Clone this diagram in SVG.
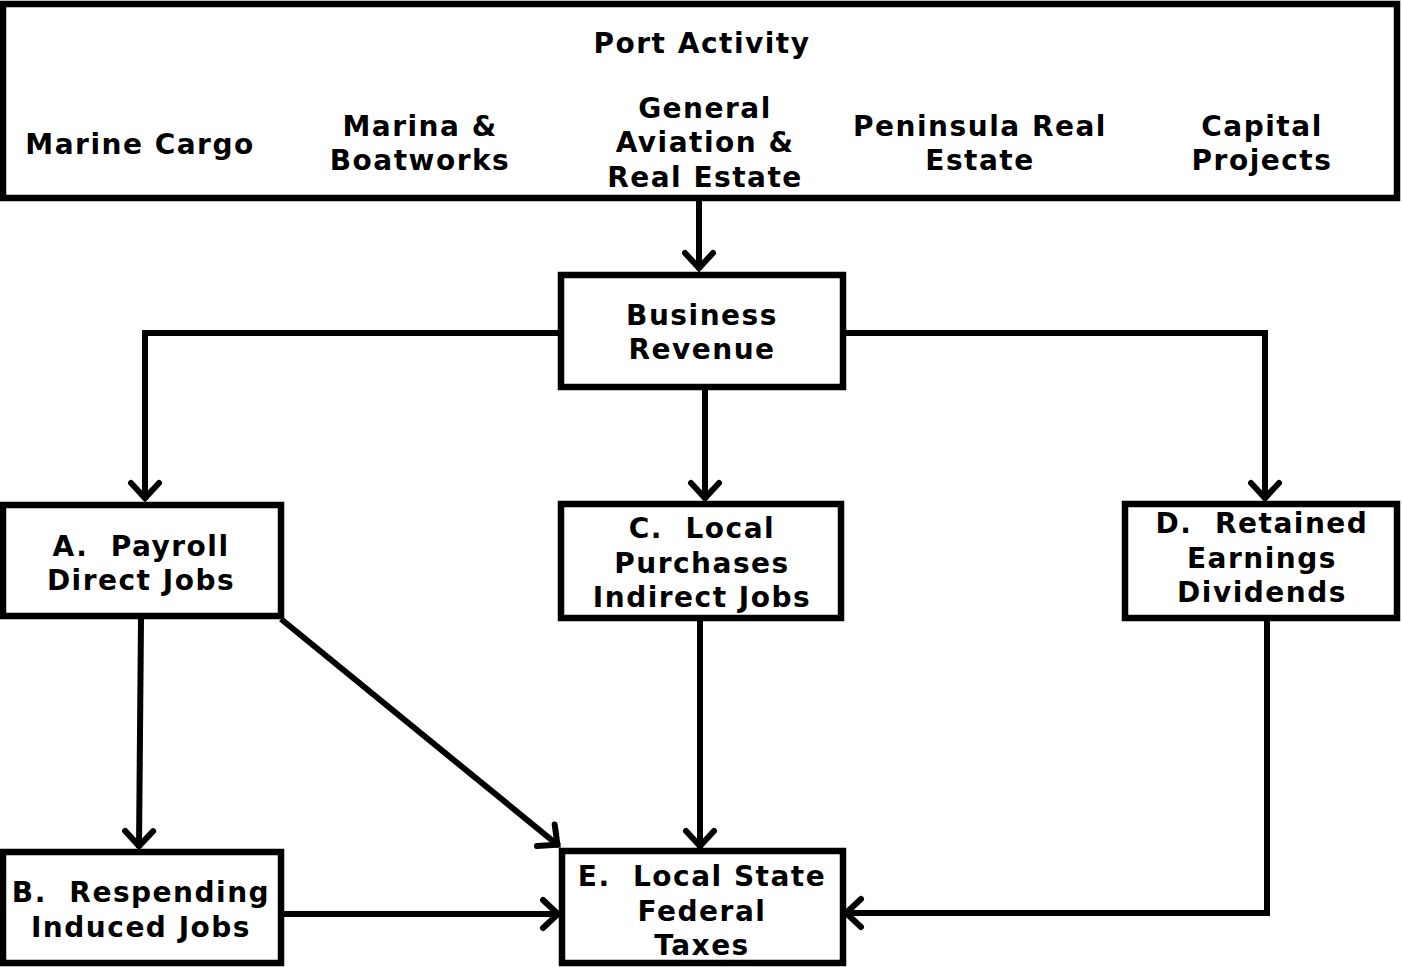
<svg xmlns="http://www.w3.org/2000/svg" width="1402" height="967" viewBox="0 0 1402 967">
<style>
.box{fill:#fff;stroke:#000;stroke-width:6.5}
.t{font-family:"DejaVu Sans","Verdana",sans-serif;font-weight:bold;font-size:28px;fill:#000;text-anchor:middle;letter-spacing:1.5px;white-space:pre}
.c{fill:none;stroke:#000;stroke-width:6;stroke-linejoin:miter}
</style>
<defs>
<marker id="arr" markerUnits="userSpaceOnUse" viewBox="-25 -20 30 40" refX="0" refY="0" markerWidth="30" markerHeight="40" orient="auto">
<path d="M-17,-14 L-2,0 L-17,14" fill="none" stroke="#000" stroke-width="6" stroke-linecap="round" stroke-linejoin="miter"/>
</marker>
</defs>
<rect width="1402" height="967" fill="#fff"/>
<g id="port">
<rect class="box" x="3" y="4" width="1394" height="194"/>
<text class="t" x="702" y="53">Port Activity</text>
<text class="t" x="140" y="154">Marine Cargo</text>
<text class="t" x="420" y="136">Marina &amp;</text>
<text class="t" x="420" y="170">Boatworks</text>
<text class="t" x="705" y="118">General</text>
<text class="t" x="705" y="152">Aviation &amp;</text>
<text class="t" x="705" y="187">Real Estate</text>
<text class="t" x="980" y="136">Peninsula Real</text>
<text class="t" x="980" y="170">Estate</text>
<text class="t" x="1262" y="136">Capital</text>
<text class="t" x="1262" y="170">Projects</text>
</g>
<g id="revenue">
<rect class="box" x="561" y="275" width="282" height="112"/>
<text class="t" x="702" y="325">Business</text>
<text class="t" x="702" y="359">Revenue</text>
</g>
<g id="nodeA">
<rect class="box" x="3" y="505" width="278" height="111"/>
<text class="t" x="141" y="556" xml:space="preserve">A.  Payroll</text>
<text class="t" x="141" y="590">Direct Jobs</text>
</g>
<g id="nodeC">
<rect class="box" x="561" y="504" width="280" height="114"/>
<text class="t" x="702" y="538" xml:space="preserve">C.  Local</text>
<text class="t" x="702" y="573">Purchases</text>
<text class="t" x="702" y="607">Indirect Jobs</text>
</g>
<g id="nodeD">
<rect class="box" x="1125" y="504" width="272" height="114"/>
<text class="t" x="1262" y="533" xml:space="preserve">D.  Retained</text>
<text class="t" x="1262" y="568">Earnings</text>
<text class="t" x="1262" y="602">Dividends</text>
</g>
<g id="nodeB">
<rect class="box" x="3" y="852" width="278" height="111"/>
<text class="t" x="141" y="902" xml:space="preserve">B.  Respending</text>
<text class="t" x="141" y="937">Induced Jobs</text>
</g>
<g id="nodeE">
<rect class="box" x="562" y="851" width="281" height="112"/>
<text class="t" x="702" y="886" xml:space="preserve">E.  Local State</text>
<text class="t" x="702" y="921">Federal</text>
<text class="t" x="702" y="955">Taxes</text>
</g>
<g id="connectors">
<path class="c" d="M699,198 L699,270" marker-end="url(#arr)"/>
<path class="c" d="M561,333 L145,333 L145,500" marker-end="url(#arr)"/>
<path class="c" d="M843,333 L1265,333 L1265,500" marker-end="url(#arr)"/>
<path class="c" d="M705,387 L705,500" marker-end="url(#arr)"/>
<path class="c" d="M141,619 L139,848" marker-end="url(#arr)"/>
<path class="c" d="M281,619 L559,846" marker-end="url(#arr)"/>
<path class="c" d="M283,914 L560,914" marker-end="url(#arr)"/>
<path class="c" d="M700,618 L700,848" marker-end="url(#arr)"/>
<path class="c" d="M1267,618 L1267,913 L844,913" marker-end="url(#arr)"/>
</g>
</svg>
